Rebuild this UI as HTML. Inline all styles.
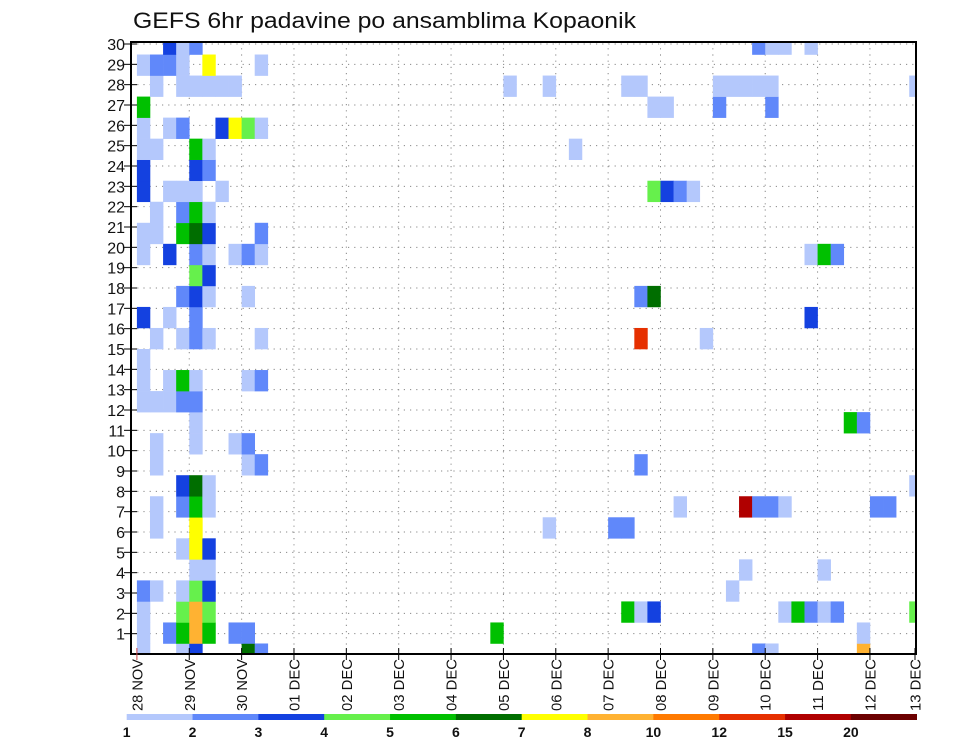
<!DOCTYPE html>
<html><head><meta charset="utf-8">
<style>
html,body{margin:0;padding:0;background:#fff;}
svg{display:block;font-family:"Liberation Sans",sans-serif;}
</style></head>
<body>
<svg id="chart" width="960" height="742" viewBox="0 0 960 742" xmlns="http://www.w3.org/2000/svg">
<text x="133" y="28" font-size="22" textLength="503" lengthAdjust="spacingAndGlyphs" fill="#111">GEFS 6hr padavine po ansamblima Kopaonik</text>
<defs><clipPath id="plotclip"><rect x="131" y="42" width="785" height="612"/></clipPath></defs>
<g id="grid"></g>
<g id="cells" clip-path="url(#plotclip)"></g>
<rect x="131" y="42" width="785" height="612" fill="none" stroke="#000" stroke-width="2"/>
<g id="yaxis"></g>
<g id="xaxis"></g>
<g id="colorbar"></g>
</svg>
<script>
// Day tick labels (x axis)
const dayLabels = ["28 NOV","29 NOV","30 NOV","01 DEC","02 DEC","03 DEC","04 DEC","05 DEC","06 DEC","07 DEC","08 DEC","09 DEC","10 DEC","11 DEC","12 DEC","13 DEC"];
// member tick labels (y axis)
const memberTicks = [1,2,3,4,5,6,7,8,9,10,11,12,13,14,15,16,17,18,19,20,21,22,23,24,25,26,27,28,29,30];
// colour scale levels (mm)
const levels = [1,2,3,4,5,6,7,8,10,12,15,20];
const levelColors = ["#b4c8fc","#6088fa","#1441e0","#66f04c","#00c000","#006e00","#ffff00","#ffb232","#ff7a00","#e63000","#b00000","#6c0000"];
// data per ensemble row (index 0 = bottom row), 6-hourly step indices and precipitation values
const memberSteps = [
 [0,3,4,8,9,47,48,55],
 [0,2,3,4,5,7,8,27,55],
 [0,3,4,5,37,38,39,49,50,51,52,53,59],
 [0,1,3,4,5,45],
 [4,5,46,52],
 [3,4,5],
 [1,4,31,36,37],
 [1,3,4,5,41,46,47,48,49,56,57],
 [3,4,5,59],
 [1,8,9,38],
 [1,4,7,8],
 [4,54,55],
 [0,1,2,3,4],
 [0,2,3,4,8,9],
 [0],
 [1,3,4,5,9,38,43],
 [0,2,4,51],
 [3,4,5,8,38,39],
 [4,5],
 [0,2,4,5,7,8,9,51,52,53],
 [0,1,3,4,5,9],
 [1,3,4,5],
 [0,2,3,4,6,39,40,41,42],
 [0,4,5],
 [0,1,4,5,33],
 [0,2,3,6,7,8,9],
 [0,39,40,44,48],
 [1,3,4,5,6,7,28,31,37,38,44,45,46,47,48,59],
 [0,1,2,3,5,9],
 [2,3,4,47,48,49,51]
];
const memberValues = [
 [1.5,1.5,3.5,6.5,2.5,2.5,1.5,9],
 [1.5,2.5,5.5,9,5.5,2.5,2.5,5.5,1.5],
 [1.5,4.5,9,4.5,5.5,1.5,3.5,1.5,5.5,2.5,1.5,2.5,4.5],
 [2.5,1.5,1.5,4.5,3.5,1.5],
 [1.5,1.5,1.5,1.5],
 [1.5,7.5,3.5],
 [1.5,7.5,1.5,2.5,2.5],
 [1.5,2.5,5.5,1.5,1.5,17.5,2.5,2.5,1.5,2.5,2.5],
 [3.5,6.5,1.5,1.5],
 [1.5,1.5,2.5,2.5],
 [1.5,1.5,1.5,2.5],
 [1.5,5.5,2.5],
 [1.5,1.5,1.5,2.5,2.5],
 [1.5,1.5,5.5,1.5,1.5,2.5],
 [1.5],
 [1.5,1.5,2.5,1.5,1.5,13.5,1.5],
 [3.5,1.5,2.5,3.5],
 [2.5,3.5,1.5,1.5,2.5,6.5],
 [4.5,3.5],
 [1.5,3.5,2.5,1.5,1.5,2.5,1.5,1.5,5.5,2.5],
 [1.5,1.5,5.5,6.5,3.5,2.5],
 [1.5,2.5,5.5,1.5],
 [3.5,1.5,1.5,1.5,1.5,4.5,3.5,2.5,1.5],
 [3.5,3.5,2.5],
 [1.5,1.5,5.5,1.5,1.5],
 [1.5,1.5,2.5,3.5,7.5,4.5,1.5],
 [5.5,1.5,1.5,2.5,2.5],
 [1.5,1.5,1.5,1.5,1.5,1.5,1.5,1.5,1.5,1.5,1.5,1.5,1.5,1.5,1.5,1.5],
 [1.5,2.5,2.5,1.5,7.5,1.5],
 [3.5,1.5,2.5,2.5,1.5,1.5,1.5]
];

const NS = "http://www.w3.org/2000/svg";
function mk(tag, attrs, parent){const e=document.createElementNS(NS,tag);for(const k in attrs)e.setAttribute(k,attrs[k]);parent.appendChild(e);return e;}
const X0=136.9, DAYW=52.36, STEPW=DAYW/4;
function xDay(d){return d===15?915:X0+DAYW*d;}
function xStep(s){return X0+STEPW*s;}
const CELLH=610/29;
function yRow(k){return 654-CELLH*k;}
function yTick(r){return 654-r*(612-2)/30;}
function colorFor(v){let idx=-1;for(let i=0;i<levels.length;i++){if(v>=levels[i])idx=i;}return idx<0?null:levelColors[idx];}

const grid=document.getElementById('grid');
memberTicks.forEach(r=>{
  const l=mk('line',{x1:131,x2:916,y1:yTick(r),y2:yTick(r),stroke:'#888','stroke-width':1,'stroke-dasharray':'1.2 5'},grid);
  
  
});
dayLabels.forEach((lab,d)=>{
  if(d===0||d===15)return;
  const l=mk('line',{x1:xDay(d),x2:xDay(d),y1:42,y2:654,stroke:'#888','stroke-width':1,'stroke-dasharray':'1.2 5'},grid);
  
  
});

const cells=document.getElementById('cells');
memberSteps.forEach((steps,k)=>{
  steps.forEach((s,i)=>{
    const col=colorFor(memberValues[k][i]);
    if(!col)return;
    const r=mk('rect',{x:xStep(s),y:yRow(k)-CELLH/2,width:STEPW+0.3,height:CELLH+0.3,fill:col},cells);
    
    
  });
});

const ya=document.getElementById('yaxis');
memberTicks.forEach(r=>{
  const y=yTick(r);
  const t=mk('line',{x1:124,x2:137,y1:y,y2:y,stroke:'#000','stroke-width':1},ya);
  
  
  const tx=mk('text',{x:125,y:y+6,'font-size':16,'text-anchor':'end',fill:'#111'},ya);
  tx.textContent=r;
  
  
});

const xa=document.getElementById('xaxis');
dayLabels.forEach((lab,d)=>{
  const x=xDay(d);
  const t=mk('line',{x1:x,x2:x,y1:648,y2:660,stroke:d===0?'#c44':'#000','stroke-width':1},xa);
  
  
  const tx=mk('text',{x:0,y:0,'font-size':15,fill:'#111',textLength:52,lengthAdjust:'spacingAndGlyphs',transform:'translate('+(x+5.5)+',711) rotate(-90)'},xa);
  tx.textContent=lab;
  
  
});

const cb=document.getElementById('colorbar');
const CB0=126.7, CBW=(916.7-126.7)/levels.length;
levels.forEach((lv,i)=>{
  const r=mk('rect',{x:CB0+CBW*i,y:714,width:CBW+0.3,height:6,fill:levelColors[i]},cb);
  
  
  const tx=mk('text',{x:CB0+CBW*i,y:737,'font-size':14,'font-weight':'bold','text-anchor':'middle',fill:'#111'},cb);
  tx.textContent=lv;
  
  
});
</script>
</body></html>
